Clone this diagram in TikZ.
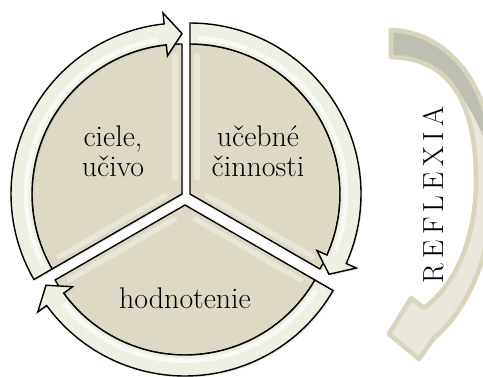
\documentclass[tikz,border=0pt]{standalone}
\usepackage{fontspec}
\usepackage{xcolor}
\definecolor{cyclewedge}{RGB}{221,217,196}
\definecolor{cycleband}{RGB}{237,240,227}
\definecolor{reflborder}{RGB}{216,212,189}
\definecolor{reflfill}{RGB}{233,231,219}
\definecolor{reflgray}{RGB}{190,191,179}
\usetikzlibrary{calc, shadows}
% outline of the curved REFLEXIA arrow
\newcommand{\reflexiashape}{(391,346) .. controls (445,344) and (492,296) .. (494,206)
  .. controls (496,126) and (468,66) .. (434,38) -- (419,17) -- (389,42) -- (411,78) -- (424,68)
  .. controls (455,91) and (476,136) .. (476,196) .. controls (476,276) and (448,318) .. (391,319) -- cycle}

\begin{document}
\begin{tikzpicture}[
  x=0.02cm, y=0.02cm,
  wedge/.style={draw=black, line width=0.8pt, fill=cyclewedge, line join=round,
                drop shadow={shadow xshift=0.8pt, shadow yshift=-0.8pt, opacity=0.2}},
  band/.style={draw=black, line width=0.8pt, fill=cycleband, line join=miter,
               drop shadow={shadow xshift=0.8pt, shadow yshift=-0.8pt, opacity=0.2}},
  shine/.style={white, line width=2.5pt, opacity=0.7},
  glow/.style={white, line width=3pt, opacity=0.35, line cap=round},
  lbl/.style={font=\fontsize{17}{17}\selectfont, align=center, text=black}
]
  \useasboundingbox (0,0) rectangle (483,376);
  % sector apexes
  \coordinate (cL) at (182,182);
  \coordinate (cR) at (190,182);
  \coordinate (cB) at (185,171);

  % Wedges
  \draw[wedge] (cL) -- ($(cL)+(210:150)$) arc[start angle=210, end angle=90, radius=150] -- cycle;
  \draw[wedge] (cR) -- ($(cR)+(90:150)$) arc[start angle=90, end angle=-30, radius=150] -- cycle;
  \draw[wedge] (cB) -- ($(cB)+(-30:150)$) arc[start angle=-30, end angle=-150, radius=150] -- cycle;
  % soft light along the straight edges
  \draw[glow] ($(cL)+(120:7)+(210:16)$) -- ($(cL)+(120:7)+(210:138)$);
  \draw[glow] ($(cL)+(180:7)+(90:16)$) -- ($(cL)+(180:7)+(90:138)$);
  \draw[glow] ($(cR)+(0:7)+(90:16)$) -- ($(cR)+(0:7)+(90:138)$);
  \draw[glow] ($(cR)+(60:7)+(-30:16)$) -- ($(cR)+(60:7)+(-30:138)$);
  \draw[glow] ($(cB)+(-120:7)+(-30:16)$) -- ($(cB)+(-120:7)+(-30:138)$);
  \draw[glow] ($(cB)+(-60:7)+(-150:16)$) -- ($(cB)+(-60:7)+(-150:138)$);

  % Circular arrows
  \draw[band] ($(cL)+(210:171)$) arc[start angle=210, end angle=96, radius=171]
    -- ($(cL)+(96:182)$) -- ($(cL)+(90:160.5)$) -- ($(cL)+(96:139)$)
    -- ($(cL)+(96:150)$) arc[start angle=96, end angle=210, radius=150] -- cycle;
  \draw[band] ($(cR)+(90:171)$) arc[start angle=90, end angle=-24, radius=171]
    -- ($(cR)+(-24:182)$) -- ($(cR)+(-30:160.5)$) -- ($(cR)+(-24:139)$)
    -- ($(cR)+(-24:150)$) arc[start angle=-24, end angle=90, radius=150] -- cycle;
  \draw[band] ($(cB)+(-30:171)$) arc[start angle=-30, end angle=-144, radius=171]
    -- ($(cB)+(-144:182)$) -- ($(cB)+(-150:160.5)$) -- ($(cB)+(-144:139)$)
    -- ($(cB)+(-144:150)$) arc[start angle=-144, end angle=-30, radius=150] -- cycle;
  % Highlights on the arrows
  \draw[shine] ($(cL)+(207:156)$) arc[start angle=207, end angle=99, radius=156];
  \draw[shine] ($(cR)+(87:156)$) arc[start angle=87, end angle=-21, radius=156];
  \draw[shine] ($(cB)+(-33:156)$) arc[start angle=-33, end angle=-141, radius=156];

  % Labels
  \node[lbl] (goals) at (113,225) {ciele,\\učivo};
  \node[lbl] (activities) at (258,225) {učebné\\činnosti};
  \node[lbl] (assessment) at (185,78) {hodnotenie};

  % REFLEXIA arrow
  \fill[reflfill] \reflexiashape;
  \fill[reflgray] (391,346) .. controls (445,344) and (492,296) .. (494,206)
    .. controls (480,260) and (448,320) .. (391,321) -- cycle;
  \draw[reflborder, line width=2.6pt, line join=round] \reflexiashape;
  \node[lbl, font=\fontsize{16.5}{17}\selectfont, rotate=90] (reflexia) at (433,181)
    {R\kern3pt E\kern3pt F\kern3pt L\kern3pt E\kern3pt X\kern3pt I\kern3pt A};
\end{tikzpicture}
\end{document}
